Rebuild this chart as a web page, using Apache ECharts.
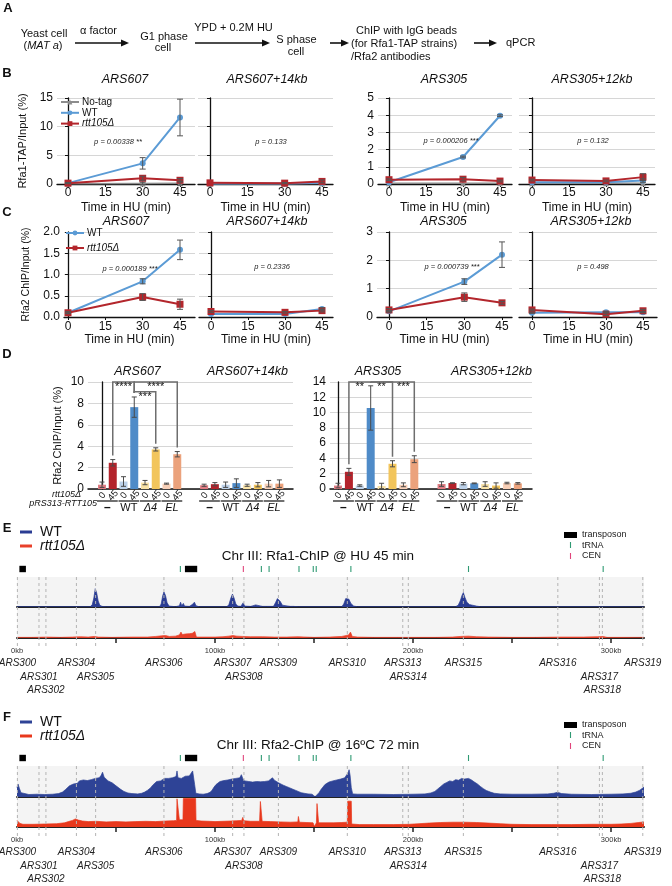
<!DOCTYPE html>
<html>
<head>
<meta charset="utf-8">
<script src="https://cdn.jsdelivr.net/npm/echarts@6.0.0/dist/echarts.min.js"></script>
<style>
html,body{margin:0;padding:0;background:#fff;}
#chart{width:672px;height:886px;}
</style>
</head>
<body>
<div id="chart"></div>
<script>
// ======================= DATA =======================
// Panels B & C (time in HU, min)
const timePoints = [0, 30, 45];
const timeTicks = [0, 15, 30, 45];

// B: Rfa1-TAP ChIP / Input (%)
const b607_noTag = [0.05, 0.1, 0.15];
const b607_noTagErr = [0, 0.2, 0.35];
const b607_wt = [0.15, 3.6, 11.6];
const b607_wtErr = [0.1, 1.0, 3.2];
const b607_rtt = [0.15, 1.0, 0.65];
const b607_rttErr = [0.05, 0.35, 0.3];
const b607k_noTag = [0.05, 0.05, 0.1];
const b607k_wt = [0.1, 0.1, 0.2];
const b607k_rtt = [0.2, 0.15, 0.45];
const b607k_rttErr = [0, 0.1, 0.25];
const b305_noTag = [0.05, 0.05, 0.05];
const b305_wt = [0.1, 1.57, 3.97];
const b305_wtErr = [0, 0.05, 0.05];
const b305_rtt = [0.25, 0.28, 0.17];
const b305_rttErr = [0.05, 0.1, 0.05];
const b305k_noTag = [0.05, 0.05, 0.05];
const b305k_wt = [0.1, 0.1, 0.2];
const b305k_wtErr = [0, 0, 0.1];
const b305k_rtt = [0.23, 0.18, 0.4];
const b305k_rttErr = [0.05, 0.05, 0.2];
const bPvalues = ['p = 0.00338 **', 'p = 0.133', 'p = 0.000206 ***', 'p = 0.132'];

// C: Rfa2 ChIP / Input (%)
const c607_wt = [0.1, 0.84, 1.58];
const c607_wtErr = [0.02, 0.06, 0.23];
const c607_rtt = [0.1, 0.47, 0.3];
const c607_rttErr = [0.02, 0.08, 0.12];
const c607k_wt = [0.07, 0.07, 0.19];
const c607k_wtErr = [0, 0, 0.03];
const c607k_rtt = [0.13, 0.11, 0.15];
const c607k_rttErr = [0.02, 0.02, 0.03];
const c305_wt = [0.2, 1.25, 2.2];
const c305_wtErr = [0.03, 0.1, 0.45];
const c305_rtt = [0.25, 0.7, 0.5];
const c305_rttErr = [0.05, 0.15, 0.05];
const c305k_wt = [0.15, 0.17, 0.17];
const c305k_wtErr = [0.02, 0.03, 0.02];
const c305k_rtt = [0.25, 0.1, 0.22];
const c305k_rttErr = [0.03, 0.05, 0.05];
const cPvalues = ['p = 0.000189 ***', 'p = 0.2336', 'p = 0.000739 ***', 'p = 0.498'];

// D: Rfa2 ChIP / Input (%), bars: (-,WT,Δ4,EL) x (0,45 min)
const dGroups = ['–', 'WT', 'Δ4', 'EL'];
const dTimes = ['0', '45'];
const d607 = [0.4, 2.45, 0.7, 7.65, 0.6, 3.7, 0.5, 3.25];
const d607Err = [0.25, 0.3, 0.45, 0.95, 0.2, 0.15, 0.05, 0.25];
const d607k = [0.35, 0.45, 0.4, 0.55, 0.35, 0.4, 0.5, 0.5];
const d607kErr = [0.1, 0.15, 0.25, 0.4, 0.1, 0.2, 0.3, 0.35];
const d305 = [0.45, 2.25, 0.45, 10.6, 0.4, 3.3, 0.55, 3.9];
const d305Err = [0.3, 0.45, 0.1, 2.9, 0.35, 0.4, 0.25, 0.45];
const d305k = [0.65, 0.78, 0.7, 0.74, 0.65, 0.45, 0.78, 0.74];
const d305kErr = [0.3, 0.03, 0.15, 0.05, 0.3, 0.35, 0.1, 0.1];
const d607Comps = [[1, 3, '****'], [3, 5, '***'], [3, 7, '****']];
const d305Comps = [[1, 3, '**'], [3, 5, '**'], [3, 7, '***']];

// E/F: chromosome III tracks (kb, relative signal)
const chrLenKb = 316.62;
const kbTicks = [50, 100, 150, 200, 250, 300];
const kbLabels = [0, 100, 200, 300];
const arsNames = ['ARS300','ARS301','ARS302','ARS304','ARS305','ARS306','ARS307','ARS308','ARS309','ARS310','ARS313','ARS314','ARS315','ARS316','ARS317','ARS318','ARS319'];
const arsKb = [0.2, 11.1, 14.6, 30.0, 39.7, 74.2, 108.9, 114.6, 132.0, 166.8, 194.8, 197.6, 225.4, 273.1, 294.1, 295.6, 316.0];
const transposonKb = [[1.2, 4.5], [84.8, 91.0]];
const tRNAKb = [82.5, 123.4, 127.3, 142.4, 149.6, 151.1, 168.6, 228.0, 296.0];
const cenKb = [114.3];

const eWT = [[0,1],[29,1],[30,5],[31,1],[37,1],[38,8],[38.8,30],[39.5,61],[40.2,48],[41,20],[41.8,6],[43,2],[45,1],[72,1],[72.8,10],[73.6,38],[74.2,50],[75,38],[75.8,14],[76.8,3],[80,1],[82,4],[82.6,16],[83.2,4],[84,12],[84.6,3],[87,2],[88.5,8],[89.6,16],[90.4,4],[92,1],[106,1],[107,8],[108,30],[108.8,43],[109.6,30],[110.5,10],[111.5,3],[113,2],[114.2,14],[115,3],[118,2],[120.5,7],[121.5,2],[124,2],[125,6],[126,2],[129.5,2],[130.5,14],[131.5,28],[132.2,31],[133,18],[134,6],[135,2],[138,2],[138.8,7],[139.6,2],[142,1],[164,1],[165,10],[166,28],[166.8,33],[167.6,26],[168.6,12],[170,3],[172,1],[221.5,1],[222.8,6],[223.8,20],[224.8,40],[225.4,48],[226.2,32],[227.2,16],[228.5,8],[230,6],[232,3],[234,1],[294,1],[295,3],[296,1],[316.62,1]];
const eRtt = [[0,2],[8,2],[15,3],[22,2],[28,3],[32,4],[36,3],[39,5],[41,3],[48,2],[58,3],[66,3],[70,5],[73,7],[75,8],[77,5],[80,6],[82,10],[82.8,19],[83.5,11],[85,13],[87,14],[88.5,15],[89.8,21],[90.6,3],[94,3],[100,3],[104,4],[107,6],[109,8],[111,6],[114,5],[118,4],[124,4],[130,3],[136,3],[142,4],[150,2],[158,3],[164,5],[167.5,10],[168.4,19],[169.3,5],[172,3],[180,2],[192,2],[202,2],[212,2],[220,3],[224,5],[228,6],[232,4],[238,3],[250,2],[262,2],[274,3],[286,3],[293,4],[296,5],[298,2],[306,2],[316.62,2]];
const fWT = [[0,30],[0.5,42],[1.2,28],[2,14],[3,9],[6,8],[10,9],[14,8],[18,9],[21,11],[23,16],[24.5,24],[25.5,30],[26.5,36],[27.5,33],[28.5,42],[29.5,47],[30.5,44],[31.5,52],[32.5,48],[33.5,55],[34.5,50],[35.5,53],[36.5,49],[37.5,56],[38.5,52],[39.5,60],[40.5,55],[41.5,62],[42.5,70],[43.2,80],[44,64],[45,58],[46,52],[47,55],[48,46],[49,41],[50,36],[51,30],[52.5,24],[54,18],[56,13],[58,11],[61,10],[63,12],[64.5,16],[66,22],[67.5,30],[68.5,38],[69.5,44],[70.5,50],[71.5,54],[72.5,52],[73.5,58],[74.5,60],[75.5,55],[76.5,60],[77.5,57],[78.5,62],[79.5,60],[80.3,66],[80.8,84],[81.3,62],[82.2,64],[83,60],[84,64],[85,67],[86,63],[87,68],[88,74],[88.7,84],[89.2,90],[89.7,40],[90.3,12],[92,10],[94,9],[96,11],[97.5,15],[98.5,22],[99.5,32],[100.5,40],[101.5,46],[102.5,50],[103.5,48],[104.5,53],[105.5,50],[106.5,55],[107.5,52],[108.5,58],[109.5,55],[110.5,60],[111.5,56],[112.5,62],[113.3,72],[114,60],[115,52],[116,48],[117,50],[118,45],[119,48],[120,44],[121,50],[122,46],[123,49],[124,45],[125,50],[126,48],[127,52],[128,56],[129,62],[130,54],[131,48],[132,46],[133,42],[134.5,38],[136,34],[137.5,30],[139,26],[140.5,22],[142,18],[143.5,14],[145,12],[147,10],[149,9],[150,6],[150.5,1],[151.3,6],[152.5,14],[153.5,24],[154.5,32],[155.5,40],[156.5,44],[157.5,48],[158.5,46],[159.5,52],[160.5,50],[161.5,55],[162.5,53],[163.5,58],[164.5,56],[165.5,62],[166.5,64],[167.2,78],[167.7,88],[168.2,70],[168.8,30],[169.5,10],[172,9],[180,9],[190,8],[200,9],[206,10],[209,13],[211,18],[212.5,26],[214,34],[215.5,42],[217,47],[218.5,52],[220,50],[221.5,56],[223,54],[224.5,60],[226,58],[227,64],[228,60],[229.5,55],[231,48],[232.5,42],[234,34],[235.5,27],[237,21],[239,16],[241,12],[244,10],[250,9],[260,9],[268,10],[271,12],[273,15],[275,11],[280,9],[290,8],[300,9],[306,10],[310,12],[312.5,16],[314.5,22],[316.62,32]];
const fRtt = [[0,22],[0.6,28],[1.5,12],[3,9],[8,9],[14,10],[20,11],[24,14],[26,18],[28,22],[29.5,27],[31,23],[33,20],[36,18],[40,19],[45,17],[50,18],[55,17],[60,18],[65,19],[70,18],[75,20],[79,21],[80.6,22],[80.8,94],[81.8,94],[82,24],[83.8,24],[84,95],[90.2,95],[90.4,22],[93,20],[97,19],[100,18],[104,19],[108,20],[111,21],[113.5,22],[114,32],[114.5,21],[118,19],[122.5,19],[122.9,85],[123.4,85],[123.8,19],[128,18],[133,17],[138,16],[141.8,17],[142.1,35],[142.6,16],[146,15],[149.5,14],[150.2,2],[150.8,2],[151.2,14],[151.5,78],[152,78],[152.3,14],[156,14],[160,14],[164,15],[166.8,16],[167,86],[168.8,86],[169,10],[173,8],[180,8],[190,8],[198,9],[203,11],[208,13],[214,15],[220,16],[226,16],[232,15],[238,13],[244,11],[250,9],[260,8],[270,8],[280,8],[290,9],[300,9],[305,10],[310,12],[314,15],[316.62,17]];

// ======================= STYLE / LAYOUT =======================
const FONT = '"Liberation Sans", Arial, Helvetica, sans-serif';
const C_WT = '#5b9bd5', C_RTT = '#b3262c', C_NOTAG = '#8c8c8c';
const barColors = ['#e07b82','#b3232b','#bcd1e9','#4f8bc8','#f7e1a6','#f2c55c','#f6ceb6','#eba27c'];
const grids = [], xAxes = [], yAxes = [], series = [], legends = [], G = [];

function T(x, y, text, o) {
  o = o || {};
  const st = {text: text, fill: o.color || '#111', fontSize: o.size || 11, fontFamily: FONT,
    fontStyle: o.italic ? 'italic' : 'normal', fontWeight: o.bold ? 'bold' : 'normal',
    textAlign: o.align || 'center', textVerticalAlign: 'middle'};
  if (o.rich) st.rich = o.rich;
  G.push({type: 'text', x: x, y: y, z: 20, silent: true, style: st});
}
function arrow(x1, x2, y) {
  G.push({type: 'line', silent: true, shape: {x1: x1, y1: y, x2: x2 - 5, y2: y}, style: {stroke: '#111', lineWidth: 1.6}});
  G.push({type: 'polygon', silent: true, shape: {points: [[x2, y], [x2 - 8, y - 3.5], [x2 - 8, y + 3.5]]}, style: {fill: '#111'}});
}
function errSeries(gi, pts, color, capW) {
  return {type: 'custom', xAxisIndex: gi, yAxisIndex: gi, z: 6, silent: true, clip: false, data: pts,
    renderItem: function (params, api) {
      const x = api.value(0), v = api.value(1), e = api.value(2);
      if (!(e > 0)) return {type: 'group', children: []};
      const a = api.coord([x, v + e]), b = api.coord([x, v - e]);
      const w = capW || 3, st = {stroke: color || '#4a4a4a', lineWidth: 1};
      return {type: 'group', children: [
        {type: 'line', shape: {x1: a[0], y1: a[1], x2: b[0], y2: b[1]}, style: st},
        {type: 'line', shape: {x1: a[0] - w, y1: a[1], x2: a[0] + w, y2: a[1]}, style: st},
        {type: 'line', shape: {x1: b[0] - w, y1: b[1], x2: b[0] + w, y2: b[1]}, style: st}]};
    }};
}
const axisText = {color: '#111', fontFamily: FONT};

// ---------- Panel A ----------
T(8, 8, 'A', {bold: true, size: 13});
T(44, 34, 'Yeast cell');
T(43, 45.5, '({i|MAT a})', {rich: {i: {fontStyle: 'italic', fontSize: 11, fontFamily: FONT, fill: '#111'}}});
T(98.5, 31, 'α factor');
arrow(75, 129, 43);
T(164, 36.5, 'G1 phase'); T(163, 48, 'cell');
T(233.5, 27.5, 'YPD + 0.2M HU');
arrow(195, 270, 43);
T(296.5, 40, 'S phase'); T(296, 51.5, 'cell');
arrow(330, 349, 43);
T(356, 30.5, 'ChIP with IgG beads', {align: 'left'});
T(351, 44, '(for Rfa1-TAP strains)', {align: 'left'});
T(351, 57, '/Rfa2 antibodies', {align: 'left'});
arrow(474, 497, 43);
T(506, 43, 'qPCR', {align: 'left'});

// ---------- Panels B & C ----------
const SYM = {
  'No-tag': {color: C_NOTAG, symbol: 'triangle', size: 6, width: 1.5},
  'WT': {color: C_WT, symbol: 'circle', size: 6, width: 2},
  'rtt105Δ': {color: C_RTT, symbol: 'rect', size: 7, width: 2}
};
function linePanel(p, defs) {
  const s = (p.x45 - p.x0) / 45;
  const gi = grids.length;
  grids.push({left: p.L, top: p.T, width: p.R - p.L, height: p.B - p.T, outerBoundsMode: 'none'});
  xAxes.push({gridIndex: gi, type: 'value', min: -(p.x0 - p.L) / s, max: (p.R - p.x0) / s,
    axisLine: {show: true, onZero: false, lineStyle: {color: '#111', width: 1.3}},
    axisTick: {show: true, customValues: timeTicks, length: 3, lineStyle: {color: '#111', width: 1}},
    axisLabel: Object.assign({show: true, customValues: timeTicks, fontSize: 12, margin: p.xm}, axisText),
    splitLine: {show: false},
    name: 'Time in HU (min)', nameLocation: 'middle', nameGap: p.xng,
    nameTextStyle: Object.assign({fontSize: 12}, axisText)});
  yAxes.push({gridIndex: gi, type: 'value', min: 0, max: p.ymax, interval: p.yint,
    axisLine: {show: true, lineStyle: {color: '#111', width: 1.3}},
    axisTick: {show: true, length: 3, lineStyle: {color: '#111', width: 1}},
    axisLabel: Object.assign({show: !!p.ylab, fontSize: 12, margin: 4, formatter: p.yfmt}, axisText),
    splitLine: {show: true, lineStyle: {color: '#d6d6d6', width: 1}},
    name: p.yname || '', nameLocation: 'middle', nameRotate: 90, nameGap: p.yng || 0,
    nameTextStyle: Object.assign({fontSize: p.ynfs || 11}, axisText)});
  defs.forEach(function (d) {
    const st = SYM[d[0]], vals = d[1], errs = d[2] || [];
    series.push({type: 'line', name: d[0], xAxisIndex: gi, yAxisIndex: gi, z: 3,
      data: timePoints.map(function (t, i) { return [t, vals[i]]; }),
      symbol: st.symbol, symbolSize: st.size, showSymbol: true,
      lineStyle: {color: st.color, width: st.width}, itemStyle: {color: st.color}});
    series.push(errSeries(gi, timePoints.map(function (t, i) { return [t, vals[i], errs[i] || 0]; }), '#555', 3));
  });
  T(p.tx, p.ty, p.title, {italic: true, size: 12.5});
  T(p.px, p.py, p.pval, {italic: true, size: 7.5, color: '#222'});
}

T(7, 73, 'B', {bold: true, size: 13});
const bRow = {T: 98, B: 184, xm: 3, xng: 18, ty: 80};
linePanel(Object.assign({}, bRow, {L: 57, R: 195, x0: 68, x45: 180, ymax: 15, yint: 5, ylab: true,
  yname: 'Rfa1-TAP/Input (%)', yng: 28.5, ynfs: 11, title: 'ARS607', tx: 125, pval: bPvalues[0], px: 118, py: 142}),
  [['No-tag', b607_noTag, b607_noTagErr], ['WT', b607_wt, b607_wtErr], ['rtt105Δ', b607_rtt, b607_rttErr]]);
linePanel(Object.assign({}, bRow, {L: 198, R: 333, x0: 210, x45: 322, ymax: 15, yint: 5, ylab: false,
  title: 'ARS607+14kb', tx: 267, pval: bPvalues[1], px: 271, py: 142}),
  [['No-tag', b607k_noTag], ['WT', b607k_wt], ['rtt105Δ', b607k_rtt, b607k_rttErr]]);
linePanel(Object.assign({}, bRow, {L: 378, R: 512, x0: 389, x45: 500, ymax: 5, yint: 1, ylab: true,
  title: 'ARS305', tx: 444, pval: bPvalues[2], px: 451, py: 141}),
  [['No-tag', b305_noTag], ['WT', b305_wt, b305_wtErr], ['rtt105Δ', b305_rtt, b305_rttErr]]);
linePanel(Object.assign({}, bRow, {L: 519, R: 655, x0: 532, x45: 643, ymax: 5, yint: 1, ylab: false,
  title: 'ARS305+12kb', tx: 592, pval: bPvalues[3], px: 593, py: 141}),
  [['No-tag', b305k_noTag], ['WT', b305k_wt, b305k_wtErr], ['rtt105Δ', b305k_rtt, b305k_rttErr]]);

T(7, 212, 'C', {bold: true, size: 13});
const cRow = {T: 232, B: 317, xm: 4, xng: 17, ty: 222};
const fmt1 = function (v) { return v.toFixed(1); };
linePanel(Object.assign({}, cRow, {L: 64, R: 195, x0: 68, x45: 180, ymax: 2, yint: 0.5, ylab: true, yfmt: fmt1,
  yname: 'Rfa2 ChIP/Input (%)', yng: 32, ynfs: 10.5, title: 'ARS607', tx: 126, pval: cPvalues[0], px: 130, py: 269}),
  [['WT', c607_wt, c607_wtErr], ['rtt105Δ', c607_rtt, c607_rttErr]]);
linePanel(Object.assign({}, cRow, {L: 199, R: 333, x0: 211, x45: 322, ymax: 2, yint: 0.5, ylab: false,
  title: 'ARS607+14kb', tx: 267, pval: cPvalues[1], px: 272, py: 267}),
  [['WT', c607k_wt, c607k_wtErr], ['rtt105Δ', c607k_rtt, c607k_rttErr]]);
linePanel(Object.assign({}, cRow, {L: 377, R: 512, x0: 389, x45: 502, ymax: 3, yint: 1, ylab: true,
  title: 'ARS305', tx: 443.5, pval: cPvalues[2], px: 452, py: 267}),
  [['WT', c305_wt, c305_wtErr], ['rtt105Δ', c305_rtt, c305_rttErr]]);
linePanel(Object.assign({}, cRow, {L: 519, R: 657, x0: 532, x45: 643, ymax: 3, yint: 1, ylab: false,
  title: 'ARS305+12kb', tx: 591, pval: cPvalues[3], px: 593, py: 267}),
  [['WT', c305k_wt, c305k_wtErr], ['rtt105Δ', c305k_rtt, c305k_rttErr]]);

function legendCfg(left, top, gap, names) {
  return {left: left, top: top, orient: 'vertical', itemWidth: 18, itemHeight: 6, itemGap: gap,
    selectedMode: false, padding: 0, data: names,
    formatter: function (n) { return n === 'rtt105Δ' ? '{i|' + n + '}' : n; },
    textStyle: {fontSize: 10, color: '#111', fontFamily: FONT, lineHeight: 10, padding: [0, 0, 0, -2],
      rich: {i: {fontStyle: 'italic', fontSize: 10, fontFamily: FONT, lineHeight: 10, color: '#111'}}}};
}
legends.push(legendCfg(60, 97, 0.8, ['No-tag', 'WT', 'rtt105Δ']));
legends.push(legendCfg(65, 228, 5, ['WT', 'rtt105Δ']));

// ---------- Panel D ----------
T(7, 354, 'D', {bold: true, size: 13});
function barPanel(p, vals, errs, vals2, errs2, comps) {
  const gi = grids.length;
  const slot = function (i) { return i + (i >= 8 ? p.gap : 0); };
  const all = vals.concat(vals2), allE = errs.concat(errs2);
  const slots = all.map(function (_, i) { return slot(i); });
  grids.push({left: p.L, top: p.T, width: p.R - p.L, height: p.B - p.T, outerBoundsMode: 'none'});
  xAxes.push({gridIndex: gi, type: 'value', min: (p.L - p.px0) / p.pitch, max: (p.R - p.px0) / p.pitch,
    axisLine: {show: true, onZero: false, lineStyle: {color: '#111', width: 1.5}},
    axisTick: {show: false}, splitLine: {show: false}, axisLabel: {show: false}});
  yAxes.push({gridIndex: gi, type: 'value', min: 0, max: p.ymax, interval: 2,
    axisLine: {show: true, lineStyle: {color: '#111', width: 1.3}},
    axisTick: {show: false},
    axisLabel: Object.assign({show: true, fontSize: 12, margin: 4}, axisText),
    splitLine: {show: true, lineStyle: {color: '#d6d6d6', width: 1}},
    name: p.yname || '', nameLocation: 'middle', nameRotate: 90, nameGap: p.yng || 0,
    nameTextStyle: Object.assign({fontSize: 11}, axisText)});
  series.push({type: 'bar', xAxisIndex: gi, yAxisIndex: gi, barWidth: 8, z: 2, silent: true,
    data: all.map(function (v, i) { return {value: [slots[i], v], itemStyle: {color: barColors[i % 8]}}; })});
  series.push(errSeries(gi, all.map(function (v, i) { return [slots[i], v, allE[i]]; }), '#4a4a4a', 2.5));
  // rotated time labels under each bar
  series.push({type: 'custom', xAxisIndex: gi, yAxisIndex: gi, clip: false, silent: true, z: 6,
    data: slots.map(function (s, i) { return [s, 0, i % 2]; }),
    renderItem: function (params, api) {
      const a = api.coord([api.value(0), 0]);
      return {type: 'text', x: a[0] + 0.5, y: a[1] + 6.5, rotation: Math.PI * 50 / 180,
        style: {text: dTimes[api.value(2)], fill: '#111', fontFamily: FONT, fontSize: 9.5,
          textAlign: 'center', textVerticalAlign: 'middle'}};
    }});
  // group labels under pairs
  const gdata = [];
  for (let k = 0; k < 8; k++) gdata.push([slots[2 * k], slots[2 * k + 1], k % 4]);
  series.push({type: 'custom', xAxisIndex: gi, yAxisIndex: gi, clip: false, silent: true, z: 6, data: gdata,
    renderItem: function (params, api) {
      const a = api.coord([api.value(0), 0]), b = api.coord([api.value(1), 0]);
      const gname = dGroups[api.value(2)];
      const y = a[1] + 12;
      return {type: 'group', children: [
        {type: 'line', shape: {x1: a[0] - 5, y1: y, x2: b[0] + 5, y2: y}, style: {stroke: '#111', lineWidth: 1.2}},
        {type: 'text', x: (a[0] + b[0]) / 2, y: y + 6.5, style: {text: gname, fill: '#111', fontFamily: FONT,
          fontSize: gname === '–' ? 12 : 11, fontWeight: gname === '–' ? 'bold' : 'normal',
          fontStyle: (gname === 'WT' || gname === '–') ? 'normal' : 'italic',
          textAlign: 'center', textVerticalAlign: 'middle'}}]};
    }});
  // significance brackets
  series.push({type: 'custom', xAxisIndex: gi, yAxisIndex: gi, clip: false, silent: true, z: 7,
    data: comps.map(function (c, i) { return [slots[c[0]], slots[c[1]], i]; }),
    renderItem: function (params, api) {
      const i = params.dataIndex, c = comps[i];
      const lvl = p.ymax - p.drop[i];
      const A = api.coord([slots[c[0]], lvl]), B = api.coord([slots[c[1]], lvl]);
      const ta = api.coord([slots[c[0]], all[c[0]] + allE[c[0]]])[1] - 4;
      const tb = api.coord([slots[c[1]], all[c[1]] + allE[c[1]]])[1] - 4;
      const sb = p.starBetween[i];
      const sx = (api.coord([slots[sb[0]], 0])[0] + api.coord([slots[sb[1]], 0])[0]) / 2;
      return {type: 'group', children: [
        {type: 'polyline', shape: {points: [[A[0], ta], A, B, [B[0], tb]]}, style: {stroke: '#6e6e6e', lineWidth: 1.5, fill: null}},
        {type: 'text', x: sx, y: A[1] - 0.5, style: {text: c[2], fill: '#111', fontFamily: FONT, fontSize: 11,
          textAlign: 'center', textVerticalAlign: 'top'}}]};
    }});
}
barPanel({L: 88, R: 293, T: 382, B: 489, px0: 102, pitch: 10.75, gap: 1.5, ymax: 10,
  yname: 'Rfa2 ChIP/Input (%)', yng: 25, drop: [0, 0.9, 0], starBetween: [[1, 3], [3, 5], [3, 7]]},
  d607, d607Err, d607k, d607kErr, d607Comps);
barPanel({L: 330, R: 532, T: 382, B: 489, px0: 338, pitch: 10.9, gap: 1.5, ymax: 14,
  drop: [0, 0, 0], starBetween: [[1, 3], [3, 5], [5, 7]]},
  d305, d305Err, d305k, d305kErr, d305Comps);
T(137.5, 372, 'ARS607', {italic: true, size: 12.5});
T(247.5, 372, 'ARS607+14kb', {italic: true, size: 12.5});
T(378, 372, 'ARS305', {italic: true, size: 12.5});
T(491.5, 372, 'ARS305+12kb', {italic: true, size: 12.5});
T(81, 494, 'rtt105Δ', {italic: true, size: 9, align: 'right'});
T(97, 503.5, 'pRS313-RTT105', {italic: true, size: 9, align: 'right'});

// ---------- Panels E & F ----------
const arsRow = [0, 1, 2, 0, 1, 0, 0, 1, 0, 0, 0, 1, 0, 0, 1, 2, 0];
function genomePanel(p, wt, rtt) {
  const W = p.R - p.L;
  const gw = grids.length;
  grids.push({left: p.L, top: p.top, width: W, height: p.mid - p.top, show: true, backgroundColor: '#f4f4f4', borderWidth: 0, borderColor: 'rgba(0,0,0,0)', outerBoundsMode: 'none'});
  xAxes.push({gridIndex: gw, type: 'value', min: 0, max: chrLenKb,
    axisLine: {show: true, onZero: false, lineStyle: {color: '#222', width: 2}},
    axisTick: {show: false}, axisLabel: {show: false}, splitLine: {show: false}});
  yAxes.push({gridIndex: gw, type: 'value', min: 0, max: 100, show: false, splitLine: {show: false}});
  const gr = grids.length;
  grids.push({left: p.L, top: p.mid, width: W, height: p.bot - p.mid, show: true, backgroundColor: '#f4f4f4', borderWidth: 0, borderColor: 'rgba(0,0,0,0)', outerBoundsMode: 'none'});
  xAxes.push({gridIndex: gr, type: 'value', min: 0, max: chrLenKb,
    axisLine: {show: true, onZero: false, lineStyle: {color: '#222', width: 2}},
    axisTick: {show: true, customValues: kbTicks, length: 5, lineStyle: {color: '#222', width: 1.5}},
    axisLabel: {show: true, customValues: kbLabels, formatter: function (v) { return v + 'kb'; },
      fontSize: 7.5, margin: 9, color: '#333', fontFamily: FONT},
    splitLine: {show: false}});
  yAxes.push({gridIndex: gr, type: 'value', min: 0, max: 100, show: false, splitLine: {show: false}});
  [[gw, wt, p.cWT], [gr, rtt, p.cRtt]].forEach(function (t) {
    series.push({type: 'line', xAxisIndex: t[0], yAxisIndex: t[0], data: t[1], showSymbol: false, symbol: 'none',
      silent: true, z: 2, lineStyle: {color: t[2], width: 0.7}, areaStyle: {color: t[2], opacity: 1}});
  });
  // dashed ARS lines
  [[gw, 0], [gr, 10]].forEach(function (t) {
    series.push({type: 'custom', xAxisIndex: t[0], yAxisIndex: t[0], clip: false, silent: true, z: 3,
      data: arsKb.map(function (k) { return [k, 0]; }),
      renderItem: function (params, api) {
        const a = api.coord([api.value(0), 100]), b = api.coord([api.value(0), 0]);
        return {type: 'line', shape: {x1: a[0], y1: a[1], x2: b[0], y2: b[1] + t[1]},
          style: {stroke: '#b4b4b4', lineWidth: 1, lineDash: [3, 3]}};
      }});
  });
  // ARS labels
  series.push({type: 'custom', xAxisIndex: gr, yAxisIndex: gr, clip: false, silent: true, z: 4,
    data: arsKb.map(function (k, i) { return [k, 0, arsRow[i]]; }),
    renderItem: function (params, api) {
      const a = api.coord([api.value(0), 0]);
      return {type: 'text', x: a[0], y: a[1] + 25 + api.value(2) * 13.8,
        style: {text: arsNames[params.dataIndex], fill: '#222', fontFamily: FONT, fontSize: 10, fontStyle: 'italic',
          textAlign: 'center', textVerticalAlign: 'middle'}};
    }});
  // annotation row (transposon / tRNA / CEN)
  series.push({type: 'custom', xAxisIndex: gw, yAxisIndex: gw, clip: false, silent: true, z: 4, data: [[0, 0]],
    renderItem: function (params, api) {
      const kids = [];
      const y = api.coord([0, 100])[1] - 8;
      transposonKb.forEach(function (t) {
        const a = api.coord([t[0], 100]), b = api.coord([t[1], 100]);
        kids.push({type: 'rect', shape: {x: a[0], y: y - 3.2, width: b[0] - a[0], height: 6.4}, style: {fill: '#000'}});
      });
      tRNAKb.forEach(function (k) {
        const a = api.coord([k, 100]);
        kids.push({type: 'line', shape: {x1: a[0], y1: y - 3, x2: a[0], y2: y + 3}, style: {stroke: '#2f9a73', lineWidth: 1.1}});
      });
      cenKb.forEach(function (k) {
        const a = api.coord([k, 100]);
        kids.push({type: 'line', shape: {x1: a[0], y1: y - 3, x2: a[0], y2: y + 3}, style: {stroke: '#e0457b', lineWidth: 1.1}});
      });
      return {type: 'group', children: kids};
    }});
  // legends
  G.push({type: 'line', silent: true, shape: {x1: 20, y1: p.lgY, x2: 32, y2: p.lgY}, style: {stroke: p.cWT, lineWidth: 3}});
  G.push({type: 'line', silent: true, shape: {x1: 20, y1: p.lgY + 14, x2: 32, y2: p.lgY + 14}, style: {stroke: p.cRtt, lineWidth: 3}});
  T(40, p.lgY, 'WT', {size: 14, align: 'left'});
  T(40, p.lgY + 14, 'rtt105Δ', {size: 14, align: 'left', italic: true});
  T(318, p.titleY, p.title, {size: 13.5});
  G.push({type: 'rect', silent: true, shape: {x: 564, y: p.rlY - 3, width: 13, height: 6}, style: {fill: '#000'}});
  G.push({type: 'line', silent: true, shape: {x1: 570.5, y1: p.rlY + 7, x2: 570.5, y2: p.rlY + 13}, style: {stroke: '#2f9a73', lineWidth: 1.1}});
  G.push({type: 'line', silent: true, shape: {x1: 570.5, y1: p.rlY + 18, x2: 570.5, y2: p.rlY + 24}, style: {stroke: '#e0457b', lineWidth: 1.1}});
  T(582, p.rlY, 'transposon', {size: 9, align: 'left', color: '#222'});
  T(582, p.rlY + 10.5, 'tRNA', {size: 9, align: 'left', color: '#222'});
  T(582, p.rlY + 21, 'CEN', {size: 9, align: 'left', color: '#222'});
}
T(7, 528, 'E', {bold: true, size: 13});
genomePanel({L: 17, R: 644, top: 577, mid: 607, bot: 638, cWT: '#2a3c93', cRtt: '#e8402a',
  lgY: 532, titleY: 556, title: 'Chr III: Rfa1-ChIP @ HU 45 min', rlY: 535}, eWT, eRtt);
T(7, 717, 'F', {bold: true, size: 13});
genomePanel({L: 17, R: 644, top: 766, mid: 797, bot: 827, cWT: '#2e4396', cRtt: '#e8381c',
  lgY: 722, titleY: 745, title: 'Chr III: Rfa2-ChIP @ 16ºC 72 min', rlY: 725}, fWT, fRtt);

// ======================= CHART =======================
const chart = echarts.init(document.getElementById('chart'), null, {renderer: 'canvas'});
chart.setOption({
  animation: false,
  backgroundColor: '#fff',
  textStyle: {fontFamily: FONT},
  grid: grids, xAxis: xAxes, yAxis: yAxes,
  legend: legends,
  series: series,
  graphic: {elements: G}
});
</script>
</body>
</html>
